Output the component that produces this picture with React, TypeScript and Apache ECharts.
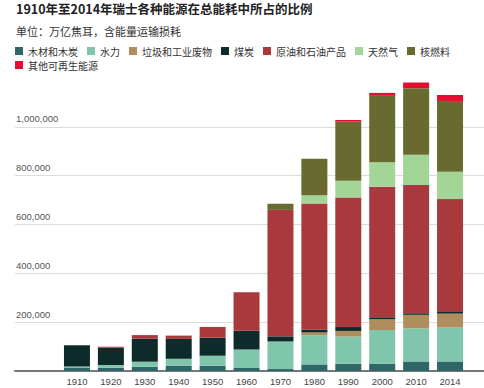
import React, { useEffect, useRef } from "react";
import * as echarts from "echarts";

const years = ["1910", "1920", "1930", "1940", "1950", "1960", "1970", "1980", "1990", "2000", "2010", "2014"];

const wood = [14000, 13500, 17500, 22000, 21500, 12000, 8000, 27000, 29000, 29000, 39000, 39000];
const hydro = [4000, 11000, 20500, 28000, 41000, 76000, 113000, 120000, 112000, 139000, 136000, 139000];
const waste = [0, 0, 0, 0, 0, 0, 0, 11000, 23000, 44000, 55000, 57000];
const coal = [87000, 71000, 94000, 81500, 74000, 77000, 21000, 12000, 16000, 8000, 6500, 7000];
const oil = [0, 4000, 15000, 13500, 44000, 158000, 518000, 516000, 531000, 535000, 526000, 462000];
const gas = [0, 0, 0, 0, 0, 0, 0, 34000, 68000, 100000, 123000, 112000];
const nuclear = [0, 0, 0, 0, 0, 0, 25000, 149000, 242000, 272000, 273000, 290000];
const renewable = [0, 0, 0, 0, 0, 0, 0, 0, 7000, 12000, 23000, 24600];

const seriesNames = ["木材和木炭", "水力", "垃圾和工业废物", "煤炭", "原油和石油产品", "天然气", "核燃料", "其他可再生能源"];
const seriesData = [wood, hydro, waste, coal, oil, gas, nuclear, renewable];
const colors = ["#2f6667", "#80c6ad", "#b08d5c", "#0d2b2b", "#a9393c", "#a3d597", "#686a30", "#e60c2f"];

const titleText = "1910年至2014年瑞士各种能源在总能耗中所占的比例";
const subtitleText = "单位：万亿焦耳，含能量运输损耗";

const CJK = '"Noto Sans CJK SC", "Liberation Sans", sans-serif';
const NUM = '"Liberation Sans", Arial, sans-serif';

export default function App() {
  const ref = useRef<HTMLDivElement>(null);

  useEffect(() => {
    document.body.style.margin = "0";
    if (!ref.current) return;
    const chart = echarts.init(ref.current, undefined, { renderer: "svg" });
    const yMax = 1200000;
    chart.setOption({
      animation: false,
      backgroundColor: "#ffffff",
      title: [
        {
          text: titleText,
          left: 16,
          top: 2,
          padding: 0,
          textStyle: { fontFamily: CJK, fontSize: 12.5, fontWeight: "bold", color: "#222" },
        },
        {
          text: subtitleText,
          left: 16,
          top: 25,
          padding: 0,
          textStyle: { fontFamily: CJK, fontSize: 11, fontWeight: "normal", color: "#333" },
        },
      ],
      legend: [
        {
          data: seriesNames.slice(0, 7),
          left: 15,
          top: 46,
          padding: 0,
          itemWidth: 8,
          itemHeight: 8,
          itemGap: 9,
          icon: "rect",
          textStyle: { fontFamily: CJK, fontSize: 10, color: "#333" },
        },
        {
          data: seriesNames.slice(7),
          left: 15,
          top: 60,
          padding: 0,
          itemWidth: 8,
          itemHeight: 8,
          itemGap: 9,
          icon: "rect",
          textStyle: { fontFamily: CJK, fontSize: 10, color: "#333" },
        },
      ],
      grid: [
        { left: 15, right: 0, top: 78, bottom: 17, containLabel: false },
        { left: 60, right: 17, top: 78, bottom: 17, containLabel: false },
      ],
      xAxis: [
        {
          type: "category",
          gridIndex: 0,
          data: years,
          axisLabel: { show: false },
          axisTick: { show: false },
          axisLine: { show: true, lineStyle: { color: "#777", width: 2 } },
        },
        {
          type: "category",
          gridIndex: 1,
          data: years,
          axisLine: { show: false },
          axisTick: { show: false },
          axisLabel: { margin: 5, fontFamily: NUM, fontSize: 9.5, color: "#444" },
        },
      ],
      yAxis: [
        {
          type: "value",
          gridIndex: 0,
          min: 0,
          max: yMax,
          interval: 200000,
          axisLine: { show: false },
          axisTick: { show: false },
          splitLine: { show: true, showMinLine: false, showMaxLine: false, lineStyle: { color: "#dcdcdc", width: 1 } },
          axisLabel: {
            inside: true,
            margin: 1,
            align: "left",
            verticalAlign: "bottom",
            padding: [0, 0, 3, 0],
            showMinLabel: false,
            showMaxLabel: false,
            fontFamily: NUM,
            fontSize: 9.5,
            color: "#555",
            formatter: (v: number) => v.toLocaleString("en-US"),
          },
        },
        {
          type: "value",
          gridIndex: 1,
          min: 0,
          max: yMax,
          interval: 200000,
          axisLine: { show: false },
          axisTick: { show: false },
          splitLine: { show: false },
          axisLabel: { show: false },
        },
      ],
      series: seriesNames.map((name, i) => ({
        name,
        type: "bar",
        stack: "total",
        xAxisIndex: 1,
        yAxisIndex: 1,
        barWidth: 26,
        data: seriesData[i],
        itemStyle: { color: colors[i] },
      })),
    });
    return () => chart.dispose();
  }, []);

  return <div ref={ref} style={{ position: "absolute", left: 0, top: 0, width: 484, height: 388 }} />;
}
